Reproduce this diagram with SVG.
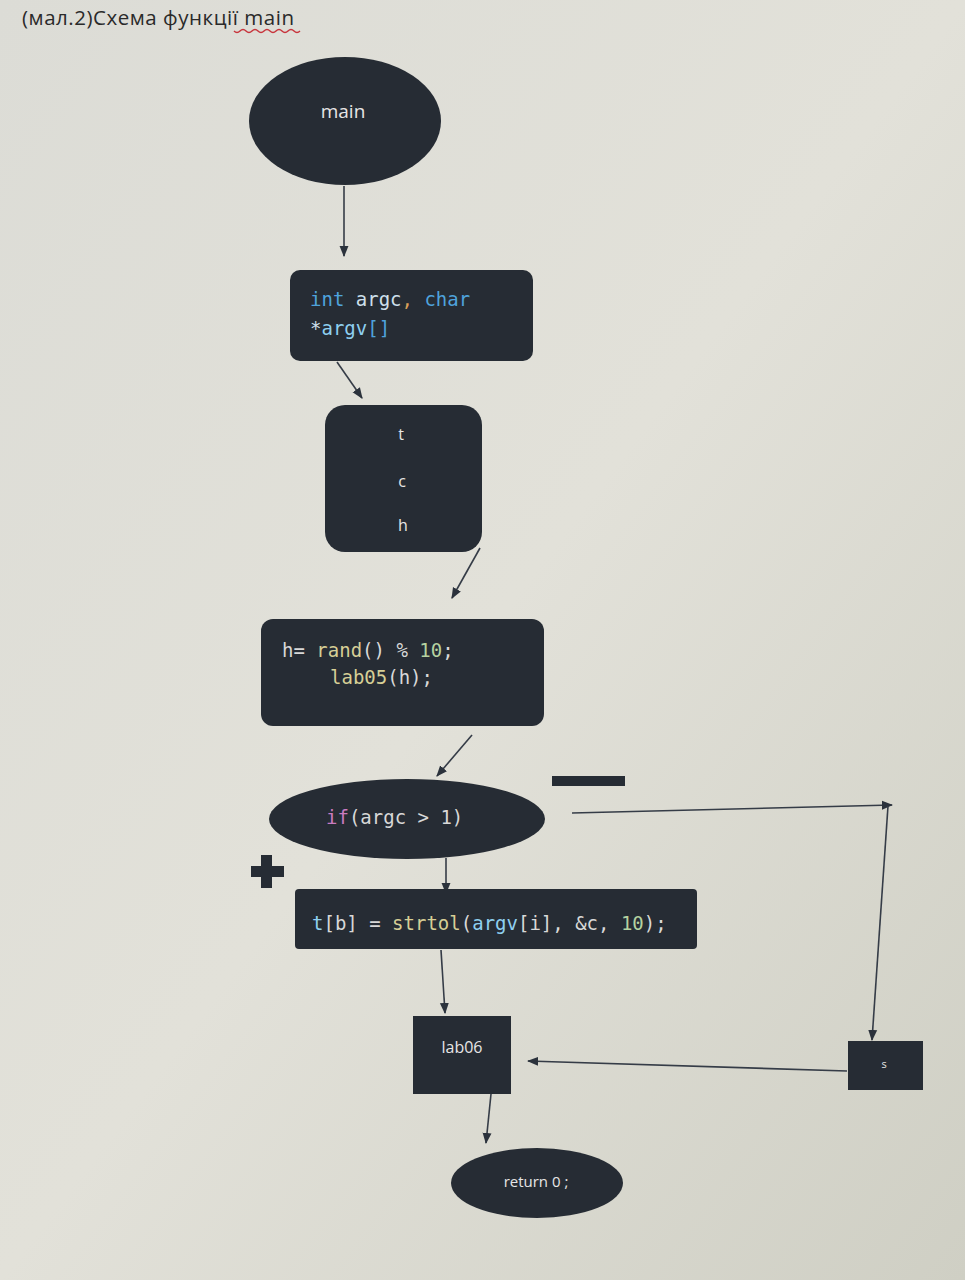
<svg xmlns="http://www.w3.org/2000/svg" width="965" height="1280" viewBox="0 0 965 1280">
<defs>
<linearGradient id="bg" x1="0" y1="0" x2="1" y2="1">
<stop offset="0" stop-color="#dcdcd6"/>
<stop offset="0.5" stop-color="#e2e1d9"/>
<stop offset="1" stop-color="#cfcfc4"/>
</linearGradient>
<marker id="ah" viewBox="0 0 10 10" refX="9" refY="5" markerWidth="7" markerHeight="7" orient="auto-start-reverse">
<path d="M0,1 L10,5 L0,9 z" fill="#2b323c"/>
</marker>
<style>
.n{fill:#262c34}
.c{stroke:#353c47;stroke-width:1.6;fill:none;marker-end:url(#ah)}
.code{font-family:"DejaVu Sans Mono","Liberation Mono",monospace;font-size:19px}
.sans{font-family:"Open Sans","Noto Sans",sans-serif;fill:#e6e6e6}
.kw{fill:#4fa3dc}.id{fill:#cfe0ec}.fn{fill:#d6cf96}.num{fill:#b5d2a0}.pk{fill:#c97bc0}.pl{fill:#d8d8d8}.lb{fill:#8fd0f0}
</style>
</defs>
<rect width="965" height="1280" fill="url(#bg)"/>
<text x="22" y="25" font-family="'Open Sans','Noto Sans',sans-serif" font-size="20.5" fill="#2a2a2a" textLength="272">(мал.2)Схема функції main</text>
<path d="M234,31 q3,3 6,0 t6,0 t6,0 t6,0 t6,0 t6,0 t6,0 t6,0 t6,0 t6,0 t6,0" stroke="#c8343c" stroke-width="1.4" fill="none"/>

<g id="connectors">
<line class="c" x1="344" y1="186" x2="344" y2="256"/>
<line class="c" x1="337" y1="362" x2="362" y2="398"/>
<line class="c" x1="480" y1="548" x2="452" y2="598"/>
<line class="c" x1="472" y1="735" x2="437" y2="776"/>
<line class="c" x1="446" y1="858" x2="446" y2="893"/>
<line class="c" x1="572" y1="813" x2="892" y2="805"/>
<line class="c" x1="888" y1="806" x2="872" y2="1040"/>
<line class="c" x1="441" y1="950" x2="445" y2="1013"/>
<line class="c" x1="847" y1="1071" x2="528" y2="1061"/>
<line class="c" x1="491" y1="1094" x2="486" y2="1143"/>
</g>

<g id="node-main">
<ellipse class="n" cx="345" cy="121" rx="96" ry="64"/>
<text class="sans" x="343" y="118" font-size="19" text-anchor="middle">main</text>
</g>

<g id="node-args">
<rect class="n" x="290" y="270" width="243" height="91" rx="10"/>
<text class="code" x="310" y="306"><tspan class="kw">int</tspan><tspan class="id"> argc</tspan><tspan fill="#d9a05a">,</tspan><tspan class="kw"> char</tspan></text>
<text class="code" x="310" y="335"><tspan class="id">*</tspan><tspan class="lb">argv</tspan><tspan class="kw">[]</tspan></text>
</g>

<g id="node-tch">
<rect class="n" x="325" y="405" width="157" height="147" rx="20"/>
<text class="sans" x="401" y="440" font-size="16" text-anchor="middle">t</text>
<text class="sans" x="402" y="487" font-size="16" text-anchor="middle">c</text>
<text class="sans" x="403" y="531" font-size="16" text-anchor="middle">h</text>
</g>

<g id="node-rand">
<rect class="n" x="261" y="619" width="283" height="107" rx="12"/>
<text class="code" x="282" y="657"><tspan class="pl">h= </tspan><tspan class="fn">rand</tspan><tspan class="pl">() % </tspan><tspan class="num">10</tspan><tspan class="pl">;</tspan></text>
<text class="code" x="330" y="684"><tspan class="fn">lab05</tspan><tspan class="pl">(h);</tspan></text>
</g>

<g id="node-if">
<ellipse class="n" cx="407" cy="819" rx="138" ry="40"/>
<text class="code" x="326" y="824"><tspan class="pk">if</tspan><tspan class="pl">(argc &gt; 1)</tspan></text>
</g>

<g id="label-minus">
<rect x="552" y="776" width="73" height="10" fill="#262c34"/>
</g>
<g id="label-plus">
<rect x="251" y="866" width="33" height="11" fill="#262c34"/>
<rect x="261" y="855" width="11" height="33" fill="#262c34"/>
</g>

<g id="node-strtol">
<rect class="n" x="295" y="889" width="402" height="60" rx="4"/>
<text class="code" x="312" y="930" font-size="18.5"><tspan class="lb">t</tspan><tspan class="pl">[b] = </tspan><tspan class="fn">strtol</tspan><tspan class="pl">(</tspan><tspan class="lb">argv</tspan><tspan class="pl">[i], &amp;c, </tspan><tspan class="num">10</tspan><tspan class="pl">);</tspan></text>
</g>

<g id="node-lab06">
<rect class="n" x="413" y="1016" width="98" height="78"/>
<text class="sans" x="462" y="1053" font-size="16" text-anchor="middle">lab06</text>
</g>

<g id="node-s">
<rect class="n" x="848" y="1041" width="75" height="49"/>
<text class="sans" x="884" y="1068" font-size="11" text-anchor="middle">s</text>
</g>

<g id="node-return">
<ellipse class="n" cx="537" cy="1183" rx="86" ry="35"/>
<text class="sans" x="536" y="1187" font-size="15" text-anchor="middle">return 0 ;</text>
</g>
</svg>
